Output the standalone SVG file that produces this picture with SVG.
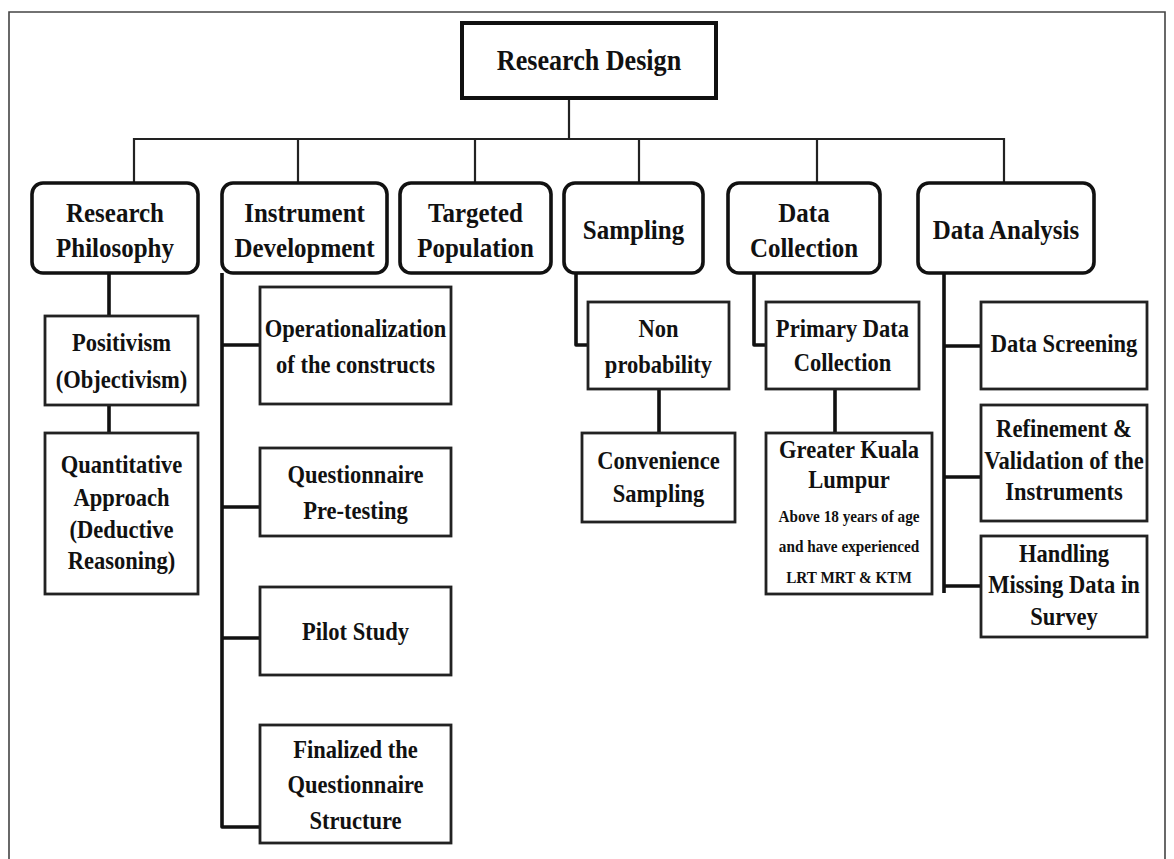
<svg xmlns="http://www.w3.org/2000/svg" width="1174" height="859" viewBox="0 0 1174 859">
  <style>
    .frame { fill: none; stroke: #444; stroke-width: 1.6; }
    .root { fill: #fff; stroke: #111; stroke-width: 4; }
    .lvl2 { fill: #fff; stroke: #111; stroke-width: 3.6; }
    .lvl3 { fill: #fff; stroke: #222; stroke-width: 2.8; }
    .bus { fill: none; stroke: #222; stroke-width: 2.2; }
    .link { fill: none; stroke: #111; stroke-width: 3.6; stroke-linejoin: round; }
    text { font-family: "Liberation Serif", "Times New Roman", serif; font-weight: bold; fill: #111; text-anchor: middle; }
    .t1 { font-size: 30px; }
    .t2 { font-size: 27px; }
    .t3 { font-size: 24.5px; }
    .t4 { font-size: 17.5px; }
  </style>
  <rect width="1174" height="859" fill="#fff"/>
  <path class="frame" d="M9,859 V12 H1165 V859"/>

  <g id="connectors">
    <!-- top level bus -->
    <path class="bus" d="M569,98 V139"/>
    <path class="bus" d="M134,183 V139 H1004 V183"/>
    <path class="bus" d="M298,139 V183 M475,139 V183 M639,139 V183 M817,139 V183"/>
    <!-- research philosophy chain -->
    <path class="link" d="M109,273 V316 M109,405 V433"/>
    <!-- instrument development spine -->
    <path class="link" d="M222,273 V827 H260 M222,345 H260 M222,507 H260 M222,638 H260"/>
    <!-- sampling -->
    <path class="link" d="M576,273 V345 H588 M659,389 V433"/>
    <!-- data collection -->
    <path class="link" d="M754,273 V345 H766 M835,389 V433"/>
    <!-- data analysis spine -->
    <path class="link" d="M944,273 V593 M944,346 H981 M944,477 H981 M944,586 H981"/>
  </g>

  <g id="research-design">
    <rect class="root" x="462" y="23" width="254" height="75"/>
    <text class="t1" transform="translate(589 0) scale(0.87 1)"><tspan x="0" y="70">Research Design</tspan></text>
  </g>

  <g id="research-philosophy">
    <rect class="lvl2" x="32" y="183" width="166" height="90" rx="11"/>
    <text class="t2" transform="translate(115 0) scale(0.925 1)"><tspan x="0" y="222">Research</tspan><tspan x="0" y="257">Philosophy</tspan></text>
  </g>
  <g id="instrument-development">
    <rect class="lvl2" x="222" y="183" width="165" height="90" rx="11"/>
    <text class="t2" transform="translate(304.5 0) scale(0.925 1)"><tspan x="0" y="222">Instrument</tspan><tspan x="0" y="257">Development</tspan></text>
  </g>
  <g id="targeted-population">
    <rect class="lvl2" x="400" y="183" width="151" height="90" rx="11"/>
    <text class="t2" transform="translate(475.5 0) scale(0.925 1)"><tspan x="0" y="222">Targeted</tspan><tspan x="0" y="257">Population</tspan></text>
  </g>
  <g id="sampling">
    <rect class="lvl2" x="564" y="183" width="139" height="90" rx="11"/>
    <text class="t2" transform="translate(633.5 0) scale(0.925 1)"><tspan x="0" y="239">Sampling</tspan></text>
  </g>
  <g id="data-collection">
    <rect class="lvl2" x="728" y="183" width="152" height="90" rx="11"/>
    <text class="t2" transform="translate(804 0) scale(0.925 1)"><tspan x="0" y="222">Data</tspan><tspan x="0" y="257">Collection</tspan></text>
  </g>
  <g id="data-analysis">
    <rect class="lvl2" x="918" y="183" width="176" height="90" rx="11"/>
    <text class="t2" transform="translate(1006 0) scale(0.925 1)"><tspan x="0" y="239">Data Analysis</tspan></text>
  </g>

  <g id="positivism">
    <rect class="lvl3" x="45" y="316" width="153" height="89"/>
    <text class="t3" transform="translate(121.5 0) scale(0.92 1)"><tspan x="0" y="351">Positivism</tspan><tspan x="0" y="388">(Objectivism)</tspan></text>
  </g>
  <g id="quantitative-approach">
    <rect class="lvl3" x="45" y="433" width="153" height="161"/>
    <text class="t3" transform="translate(121.5 0) scale(0.92 1)"><tspan x="0" y="473">Quantitative</tspan><tspan x="0" y="506">Approach</tspan><tspan x="0" y="538">(Deductive</tspan><tspan x="0" y="569">Reasoning)</tspan></text>
  </g>

  <g id="operationalization">
    <rect class="lvl3" x="260" y="287" width="191" height="117"/>
    <text class="t3" transform="translate(355.5 0) scale(0.92 1)"><tspan x="0" y="337">Operationalization</tspan><tspan x="0" y="373">of the constructs</tspan></text>
  </g>
  <g id="questionnaire-pretesting">
    <rect class="lvl3" x="260" y="448" width="191" height="88"/>
    <text class="t3" transform="translate(355.5 0) scale(0.92 1)"><tspan x="0" y="483">Questionnaire</tspan><tspan x="0" y="519">Pre-testing</tspan></text>
  </g>
  <g id="pilot-study">
    <rect class="lvl3" x="260" y="587" width="191" height="88"/>
    <text class="t3" transform="translate(355.5 0) scale(0.92 1)"><tspan x="0" y="640">Pilot Study</tspan></text>
  </g>
  <g id="finalized-questionnaire">
    <rect class="lvl3" x="260" y="725" width="191" height="118"/>
    <text class="t3" transform="translate(355.5 0) scale(0.92 1)"><tspan x="0" y="758">Finalized the</tspan><tspan x="0" y="793">Questionnaire</tspan><tspan x="0" y="829">Structure</tspan></text>
  </g>

  <g id="non-probability">
    <rect class="lvl3" x="588" y="302" width="141" height="87"/>
    <text class="t3" transform="translate(658.5 0) scale(0.92 1)"><tspan x="0" y="337">Non</tspan><tspan x="0" y="373">probability</tspan></text>
  </g>
  <g id="convenience-sampling">
    <rect class="lvl3" x="582" y="433" width="153" height="89"/>
    <text class="t3" transform="translate(658.5 0) scale(0.92 1)"><tspan x="0" y="469">Convenience</tspan><tspan x="0" y="502">Sampling</tspan></text>
  </g>

  <g id="primary-data-collection">
    <rect class="lvl3" x="766" y="302" width="153" height="87"/>
    <text class="t3" transform="translate(842.5 0) scale(0.92 1)"><tspan x="0" y="337">Primary Data</tspan><tspan x="0" y="371">Collection</tspan></text>
  </g>
  <g id="greater-kuala-lumpur">
    <rect class="lvl3" x="766" y="433" width="166" height="161"/>
    <text class="t3" transform="translate(849 0) scale(0.92 1)"><tspan x="0" y="458">Greater Kuala</tspan><tspan x="0" y="488">Lumpur</tspan></text>
    <text class="t4" transform="translate(849 0) scale(0.87 1)"><tspan x="0" y="522">Above 18 years of age</tspan><tspan x="0" y="552">and have experienced</tspan><tspan x="0" y="583">LRT MRT &amp; KTM</tspan></text>
  </g>

  <g id="data-screening">
    <rect class="lvl3" x="981" y="302" width="166" height="87"/>
    <text class="t3" transform="translate(1064 0) scale(0.92 1)"><tspan x="0" y="352">Data Screening</tspan></text>
  </g>
  <g id="refinement-validation">
    <rect class="lvl3" x="981" y="405" width="166" height="116"/>
    <text class="t3" transform="translate(1064 0) scale(0.92 1)"><tspan x="0" y="437">Refinement &amp;</tspan><tspan x="0" y="469">Validation of the</tspan><tspan x="0" y="500">Instruments</tspan></text>
  </g>
  <g id="handling-missing-data">
    <rect class="lvl3" x="981" y="536" width="166" height="101"/>
    <text class="t3" transform="translate(1064 0) scale(0.92 1)"><tspan x="0" y="562">Handling</tspan><tspan x="0" y="593">Missing Data in</tspan><tspan x="0" y="625">Survey</tspan></text>
  </g>
</svg>
